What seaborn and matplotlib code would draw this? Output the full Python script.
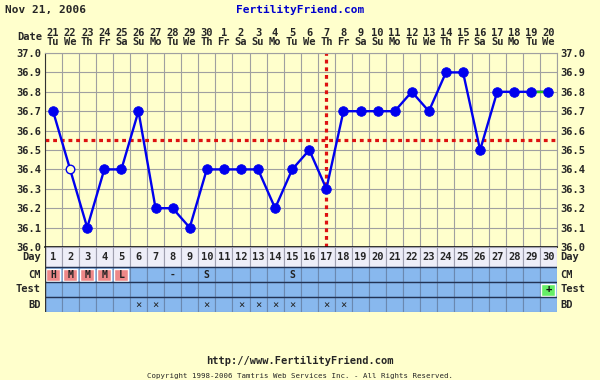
import numpy as np
import matplotlib
matplotlib.use("Agg")
import matplotlib.pyplot as plt
import seaborn as sns

# chart data
cycle_days = list(range(1, 31))
dates = [21, 22, 23, 24, 25, 26, 27, 28, 29, 30,
         1, 2, 3, 4, 5, 6, 7, 8, 9, 10,
         11, 12, 13, 14, 15, 16, 17, 18, 19, 20]
weekdays = ['Tu', 'We', 'Th', 'Fr', 'Sa', 'Su', 'Mo'] * 4 + ['Tu', 'We']
temps = [36.7, 36.4, 36.1, 36.4, 36.4, 36.7, 36.2, 36.2, 36.1, 36.4,
         36.4, 36.4, 36.4, 36.2, 36.4, 36.5, 36.3, 36.7, 36.7, 36.7,
         36.7, 36.8, 36.7, 36.9, 36.9, 36.5, 36.8, 36.8, 36.8, 36.8]
discarded_days = [2]
cm_codes = ['H', 'M', 'M', 'M', 'L', '', '', '-', '', 'S',
            '', '', '', '', 'S', '', '', '', '', '',
            '', '', '', '', '', '', '', '', '', '']
test_marks = {30: '+'}
bd_days = [6, 7, 10, 12, 13, 14, 15, 17, 18]
coverline = 36.55
ovulation_day = 17
temp_ticks = [36.0, 36.1, 36.2, 36.3, 36.4, 36.5, 36.6, 36.7, 36.8, 36.9, 37.0]

bg = '#ffffcc'
blue = '#0000ee'
red = '#dd1111'
font = 'DejaVu Sans Mono'

sns.set_style('white')
plt.rcParams['font.family'] = [font]
plt.rcParams['font.weight'] = 'bold'

W, H = 600, 380
fig = plt.figure(figsize=(6, 3.8), dpi=100, facecolor=bg)

left, right = 44.5, 557
top, bottom = 53, 247
ax = fig.add_axes([left / W, 1 - bottom / H, (right - left) / W, (bottom - top) / H])
tab = fig.add_axes([left / W, 1 - 312 / H, (right - left) / W, (312 - bottom) / H])

# ---- temperature chart ----
ax.set_facecolor(bg)
ax.axhline(coverline, color=red, lw=2.3, ls=(0, (1.2, 1.2)), zorder=2)
ax.axvline(ovulation_day, color=red, lw=2.3, ls=(0, (1.2, 1.2)), zorder=2)

sns.lineplot(x=cycle_days, y=temps, ax=ax, color=blue, lw=1.7, zorder=3)
sns.lineplot(x=cycle_days[-2:], y=temps[-2:], ax=ax, color='#22bb22', lw=1.7, zorder=3)

kept_days = [d for d in cycle_days if d not in discarded_days]
kept_temps = [t for d, t in zip(cycle_days, temps) if d not in discarded_days]
sns.scatterplot(x=kept_days, y=kept_temps, ax=ax, s=48, color=blue,
                edgecolor=blue, zorder=4)
sns.scatterplot(x=discarded_days, y=[temps[d - 1] for d in discarded_days], ax=ax,
                s=38, color=bg, edgecolor=blue, linewidth=1, zorder=4)

ax.set_xlim(0.5, 30.5)
ax.set_ylim(36.0, 37.0)
ax.set_yticks(temp_ticks)
ax.set_yticklabels([f'{t:.1f}' for t in temp_ticks])
ax.set_xticks(cycle_days)
ax.set_xticklabels([f'{d}\n{w}' for d, w in zip(dates, weekdays)])
ax.set_xticks(np.arange(0.5, 31, 1), minor=True)
ax.xaxis.tick_top()
ax.tick_params(axis='x', which='both', length=0, pad=4, labelsize=7.5)
ax.tick_params(axis='y', length=0, pad=2.5, labelsize=7.5, labelright=True)
for t in ax.get_xticklabels():
    t.set_linespacing(0.95)
ax.grid(which='minor', axis='x', color='#a0a0a0', lw=0.8)
ax.grid(which='major', axis='y', color='#a0a0a0', lw=0.8)
ax.grid(which='major', axis='x', visible=False)
for s in ['top', 'right']:
    ax.spines[s].set_color('#a0a0a0')
    ax.spines[s].set_linewidth(0.8)
ax.spines['left'].set_color('#333333')
ax.spines['bottom'].set_color('#111111')
ax.spines['bottom'].set_linewidth(1.2)
ax.set_xlabel('')
ax.set_ylabel('')

# ---- table rows under the chart ----
tab.set_facecolor(bg)
tab.bar(cycle_days, [20] * 30, bottom=45, width=1, color='#eeeef8',
        edgecolor='#a0a0b0', linewidth=0.8)
for b in (30, 15, 0):
    tab.bar(cycle_days, [15] * 30, bottom=b, width=1, color='#88b8ee',
            edgecolor='#6a88b0', linewidth=0.8)
for y in (45, 30, 15):
    tab.axhline(y, color='#223355', lw=1.0)
tab.axvline(0.5, color='#333333', lw=1.0)

fertile = [d for d, c in zip(cycle_days, cm_codes) if c in ('H', 'M', 'L')]
tab.bar(fertile, [12] * len(fertile), bottom=31.5, width=0.82, color='#ee8888')
tab.bar(list(test_marks), [12] * len(test_marks), bottom=16.5, width=0.82, color='#66ee66')

for d in cycle_days:
    tab.text(d, 55, str(d), ha='center', va='center', fontsize=7.5)
for d, c in zip(cycle_days, cm_codes):
    if c:
        tab.text(d, 37.5, c, ha='center', va='center', fontsize=7, color='#222222')
for d, m in test_marks.items():
    tab.text(d, 22.5, m, ha='center', va='center', fontsize=7.5, color='#111111')
for d in bd_days:
    tab.text(d, 7.5, '\u00d7', ha='center', va='center', fontsize=7.5,
             fontweight='normal', color='#222222')

tab.set_xlim(0.5, 30.5)
tab.set_ylim(0, 65)
tab.axis('off')

for label, y in [('Day', 55), ('CM', 37.5), ('Test', 22.5), ('BD', 7.5)]:
    tab.text(-0.007, y, label, transform=tab.get_yaxis_transform(),
             ha='right', va='center', fontsize=7.5)
    tab.text(1.007, y, label, transform=tab.get_yaxis_transform(),
             ha='left', va='center', fontsize=7.5)

# ---- header / footer ----
fig.text(5 / W, 1 - 10 / H, 'Nov 21, 2006', ha='left', va='center', fontsize=8)
fig.text(300 / W, 1 - 10 / H, 'FertilityFriend.com', ha='center', va='center',
         fontsize=8, color='#0000cc')
fig.text(42 / W, 1 - 37 / H, 'Date', ha='right', va='center', fontsize=7.5)
fig.text(300 / W, 1 - 361 / H, 'http://www.FertilityFriend.com', ha='center',
         va='center', fontsize=7.5)
fig.text(300 / W, 1 - 376 / H,
         'Copyright 1998-2006 Tamtris Web Services Inc. - All Rights Reserved.',
         ha='center', va='center', fontsize=5.3, fontweight='normal')

fig.savefig('out.png', dpi=100, facecolor=bg)
